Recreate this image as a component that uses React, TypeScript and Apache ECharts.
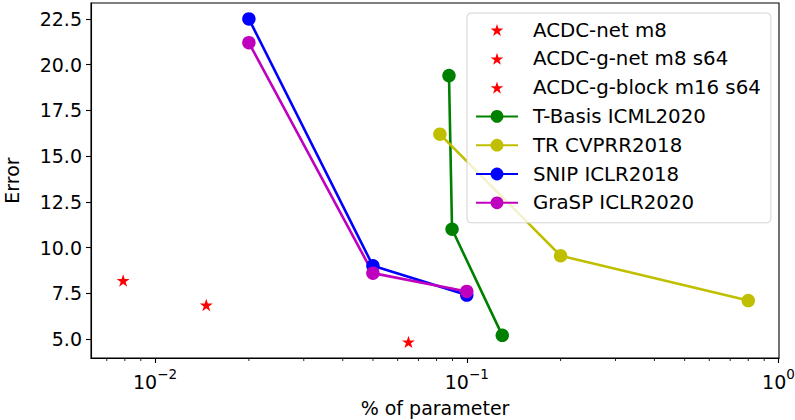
import React, { useEffect, useRef } from "react";
import * as echarts from "echarts";

// ---- data ----
const acdcNetX = [0.0079];
const acdcNetY = [8.2];
const acdcGNetX = [0.0146];
const acdcGNetY = [6.86];
const acdcGBlockX = [0.065];
const acdcGBlockY = [4.84];
const tBasisX = [0.0877, 0.0897, 0.13];
const tBasisY = [19.4, 11.0, 5.2];
const trX = [0.082, 0.2, 0.8];
const trY = [16.2, 9.55, 7.1];
const snipX = [0.02, 0.05, 0.1];
const snipY = [22.5, 9.0, 7.4];
const graspX = [0.02, 0.05, 0.1];
const graspY = [21.2, 8.6, 7.6];

const seriesNames = [
  "ACDC-net m8",
  "ACDC-g-net m8 s64",
  "ACDC-g-block m16 s64",
  "T-Basis ICML2020",
  "TR CVPRR2018",
  "SNIP ICLR2018",
  "GraSP ICLR2020",
];

const xMajorTicks = [0.01, 0.1, 1];
const xMinorTicks = [
  0.007, 0.008, 0.009,
  0.02, 0.03, 0.04, 0.05, 0.06, 0.07, 0.08, 0.09,
  0.2, 0.3, 0.4, 0.5, 0.6, 0.7, 0.8, 0.9,
];
const yTicks = [5, 7.5, 10, 12.5, 15, 17.5, 20, 22.5];

const X_MIN = 0.00623;
const X_MAX = 1.004;
const Y_MIN = 3.96;
const Y_MAX = 23.37;

const STAR_D =
  "M0,-1L0.2245,-0.309L0.9511,-0.309L0.3633,0.118L0.5878,0.809L0,0.382L-0.5878,0.809L-0.3633,0.118L-0.9511,-0.309L-0.2245,-0.309Z";
const STAR = "path://" + STAR_D;
// same star with an empty margin so the legend icon comes out smaller
const STAR_LEGEND = "path://M-1.3,-1.3L-1.3,-1.3ZM1.3,1.1L1.3,1.1Z" + STAR_D;

const FONT = "DejaVu Sans";
const FS = 19;
const LFS = 19.8;

const zip = (xs: number[], ys: number[]) => xs.map((x, i) => [x, ys[i]]);

function starSeries(name: string, xs: number[], ys: number[]) {
  return {
    name,
    type: "scatter",
    data: zip(xs, ys),
    symbol: STAR,
    symbolSize: 13,
    symbolKeepAspect: true,
    itemStyle: { color: "#ff0000", opacity: 1 },
    z: 3,
  };
}

function lineSeries(name: string, xs: number[], ys: number[], color: string) {
  return {
    name,
    type: "line",
    data: zip(xs, ys),
    symbol: "circle",
    symbolSize: 13.5,
    showSymbol: true,
    lineStyle: { color, width: 2.6 },
    itemStyle: { color, borderWidth: 0 },
    z: 3,
  };
}

export default function App() {
  const ref = useRef<HTMLDivElement>(null);
  useEffect(() => {
    if (!ref.current) return;
    const chart = echarts.init(ref.current, undefined, { renderer: "svg" });
    const option: any = {
      animation: false,
      backgroundColor: "#ffffff",
      textStyle: { fontFamily: FONT },
      grid: {
        left: 91,
        top: 3,
        right: 16,
        bottom: 62,
        outerBoundsMode: "none",
        containLabel: false,
        show: true,
        borderColor: "#000",
        borderWidth: 1.1,
        backgroundColor: "transparent",
      },
      xAxis: {
        type: "log",
        logBase: 10,
        min: X_MIN,
        max: X_MAX,
        name: "% of parameter",
        nameLocation: "middle",
        nameGap: 40,
        nameTextStyle: { fontSize: FS, color: "#000", fontFamily: FONT },
        axisLine: { show: true, lineStyle: { color: "#000", width: 1.1 } },
        axisTick: {
          show: true,
          length: 5,
          lineStyle: { color: "#000", width: 1.1 },
          customValues: xMajorTicks,
        },
        splitLine: { show: false },
        minorTick: { show: false },
        axisLabel: {
          customValues: xMajorTicks,
          margin: 9,
          color: "#000",
          formatter: (v: number) => {
            const e = Math.round(Math.log10(v));
            return "{a|10}{b|" + (e < 0 ? "\u2212" + -e : String(e)) + "}";
          },
          rich: {
            a: { fontSize: FS, fontFamily: FONT, color: "#000", lineHeight: 24, verticalAlign: "bottom" },
            b: { fontSize: 13.5, fontFamily: FONT, color: "#000", lineHeight: 24, verticalAlign: "top" },
          },
        },
      },
      yAxis: {
        type: "value",
        min: Y_MIN,
        max: Y_MAX,
        name: "Error",
        nameLocation: "middle",
        nameGap: 70,
        nameTextStyle: { fontSize: FS, color: "#000", fontFamily: FONT },
        axisLine: { show: true, lineStyle: { color: "#000", width: 1.1 } },
        axisTick: {
          show: true,
          length: 5,
          lineStyle: { color: "#000", width: 1.1 },
          customValues: yTicks,
        },
        splitLine: { show: false },
        axisLabel: {
          customValues: yTicks,
          margin: 9,
          fontSize: FS,
          fontFamily: FONT,
          color: "#000",
          formatter: (v: number) => v.toFixed(1),
        },
      },
      legend: {
        orient: "vertical",
        left: 467,
        top: 13,
        padding: [7, 10, 10, 8],
        itemWidth: 42,
        itemHeight: 16,
        itemGap: 8.8,
        backgroundColor: "rgba(255,255,255,0.8)",
        borderColor: "#d4d4d4",
        borderWidth: 1,
        borderRadius: 4,
        data: seriesNames.map((n, i) => (i < 3 ? { name: n, icon: STAR_LEGEND } : { name: n })),
        textStyle: {
          fontSize: LFS,
          fontFamily: FONT,
          color: "#000",
          lineHeight: 20,
          padding: [0, 0, 0, 10],
        },
      },
      series: [
        starSeries(seriesNames[0], acdcNetX, acdcNetY),
        starSeries(seriesNames[1], acdcGNetX, acdcGNetY),
        starSeries(seriesNames[2], acdcGBlockX, acdcGBlockY),
        lineSeries(seriesNames[3], tBasisX, tBasisY, "#008000"),
        lineSeries(seriesNames[4], trX, trY, "#bfbf00"),
        lineSeries(seriesNames[5], snipX, snipY, "#0000ff"),
        lineSeries(seriesNames[6], graspX, graspY, "#bf00bf"),
        {
          name: "minorTicks",
          type: "custom",
          silent: true,
          clip: false,
          data: xMinorTicks.map((v) => [v, Y_MIN]),
          renderItem: (_p: any, api: any) => {
            const pt = api.coord([api.value(0), Y_MIN]);
            return {
              type: "line",
              shape: { x1: pt[0], y1: pt[1], x2: pt[0], y2: pt[1] + 3 },
              style: { stroke: "#000", lineWidth: 0.85 },
            };
          },
          z: 1,
        },
      ],
    };
    chart.setOption(option);
    return () => chart.dispose();
  }, []);
  return (
    <div
      ref={ref}
      style={{ position: "fixed", left: 0, top: 0, width: 795, height: 420 }}
    />
  );
}
